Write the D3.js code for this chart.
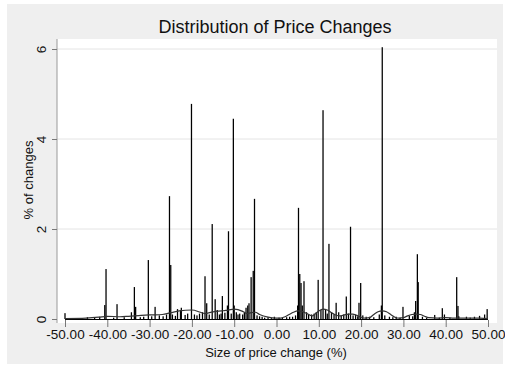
<!DOCTYPE html>
<html>
<head>
<meta charset="utf-8">
<script src="https://d3js.org/d3.v7.min.js"></script>
<style>
  body { margin: 0; background: #fff; }
  text { font-family: "Liberation Sans", Arial, sans-serif; fill: #111; }
</style>
</head>
<body>
<script>
// histogram bins: centre of bin (% price change) and share of changes (%)
var binCenters = [-50, -44.7, -43, -41.8, -40.6, -40.3, -38.5, -37.7, -36, -34.3, -33.6, -33.3, -32.2, -31.4, -30.3, -29.5,
  -28.7, -27.7, -26.8, -26, -25.3, -25, -24.6, -23.9, -23.4, -22.7, -22.5, -21.6, -21, -20.1, -19.4, -18.8, -18.2, -17.5,
  -16.9, -16.5, -15.9, -15.2, -14.5, -14, -13.5, -13.1, -12.8, -12.2, -11.6, -11.35, -10.7, -10.2, -10, -9.5, -9.1,
  -8.7, -8, -7.6, -7.2, -6.8, -6.5, -6, -5.5, -5.2, -4.6, -4, -3.4, -2.8, -2, -1.2, -0.5, 0.6, 1.4, 2.4, 3.1, 3.8, 4.5,
  5, 5.2, 5.5, 5.8, 6.1, 6.5, 7.1, 7.6, 8.3, 8.9, 9.4, 9.85, 10.5, 11, 11.6, 12, 12.4, 13, 13.6, 14.1, 14.7, 15.3, 15.9,
  16.5, 17, 17.5, 18.1, 18.7, 19.2, 19.5, 19.9, 20.4, 21.2, 22, 23, 24.3, 24.8, 25, 25.6, 26.7, 27.5, 28.3, 29.2, 29.9,
  31.4, 32.2, 32.6, 32.9, 33.3, 33.5, 34.5, 35.5, 37.4, 38.5, 39.2, 39.7, 41, 42.6, 42.9, 43.1, 44.9, 45.8, 46.8, 48,
  49.2, 49.8];
var binPct = [0.13, 0.04, 0.04, 0.05, 0.31, 1.11, 0.03, 0.33, 0.04, 0.15, 0.71, 0.27, 0.04, 0.05, 1.31, 0.06,
  0.27, 0.08, 0.06, 0.1, 2.73, 1.2, 0.1, 0.07, 0.22, 0.2, 0.25, 0.09, 0.12, 4.78, 0.1, 0.08, 0.12, 0.15,
  0.95, 0.35, 0.1, 2.11, 0.44, 0.2, 0.1, 0.12, 0.51, 0.14, 0.3, 1.95, 0.12, 4.45, 0.3, 0.15, 0.1,
  0.12, 0.1, 0.14, 0.25, 0.3, 0.35, 0.93, 1.07, 2.67, 0.08, 0.06, 0.05, 0.03, 0.04, 0.02, 0.05, 0.03, 0.03, 0.04, 0.05, 0.05, 0.08,
  0.3, 2.47, 1.0, 0.8, 0.3, 0.84, 0.15, 0.1, 0.1, 0.12, 0.15, 0.87, 0.2, 4.64, 0.2, 0.12, 1.67, 0.15, 0.1, 0.36, 0.15, 0.08, 0.1,
  0.5, 0.12, 2.05, 0.08, 0.1, 0.06, 0.36, 0.8, 0.08, 0.05, 0.05, 0.04, 0.1, 0.3, 6.04, 0.08, 0.05, 0.04, 0.05, 0.03, 0.27,
  0.07, 0.06, 0.15, 0.4, 1.44, 0.82, 0.05, 0.03, 0.09, 0.03, 0.24, 0.1, 0.03, 0.93, 0.29, 0.06, 0.05, 0.03, 0.05, 0.07,
  0.1, 0.22];

// kernel density overlay
var densX = [-50, -45, -42, -40, -37, -35, -32, -30, -27, -25, -23, -20, -18, -17, -15, -13, -12, -10, -8, -7, -6, -5, -4,
  -2, 0, 1, 2, 3, 4, 5, 6, 7, 8, 8.5, 9, 10, 11, 12, 13, 14, 15, 16, 17, 18, 19, 20, 21, 22, 23, 24, 25, 26, 27, 28, 29,
  30, 31, 32, 33, 34, 35, 36, 38, 40, 42, 45, 48, 50];
var densY = [0.01, 0.02, 0.04, 0.06, 0.05, 0.06, 0.08, 0.09, 0.1, 0.14, 0.18, 0.2, 0.15, 0.12, 0.16, 0.18, 0.19, 0.22, 0.17,
  0.12, 0.14, 0.15, 0.1, 0.04, 0.02, 0.02, 0.05, 0.1, 0.15, 0.18, 0.17, 0.13, 0.08, 0.07, 0.1, 0.18, 0.22, 0.2, 0.14, 0.09,
  0.07, 0.09, 0.11, 0.11, 0.08, 0.04, 0.02, 0.03, 0.1, 0.16, 0.18, 0.16, 0.1, 0.04, 0.02, 0.03, 0.07, 0.1, 0.11, 0.1, 0.06,
  0.03, 0.02, 0.03, 0.02, 0.02, 0.02, 0.01];

var xTicks = [-50, -40, -30, -20, -10, 0, 10, 20, 30, 40, 50];
var yTicks = [0, 2, 4, 6];
var binWidth = 0.3;

var W = 505, H = 366;
var svg = d3.select('body').append('svg').attr('width', W).attr('height', H);

// graph region and plot region
svg.append('rect').attr('x', 7).attr('y', 4).attr('width', 496).attr('height', 360).attr('fill', '#efefef');
var plot = { left: 57, right: 497, top: 39, bottom: 323 };
svg.append('rect').attr('x', plot.left).attr('y', plot.top)
  .attr('width', plot.right - plot.left).attr('height', plot.bottom - plot.top).attr('fill', '#fff');

var x = d3.scaleLinear().domain([-50, 50]).range([65, 488]);
var y = d3.scaleLinear().domain([0, 6]).range([319, 49]);

// gridlines
svg.selectAll('.grid').data(yTicks.filter(function(d) { return d > 0; })).enter().append('line')
  .attr('x1', plot.left).attr('x2', plot.right)
  .attr('y1', function(d) { return y(d); }).attr('y2', function(d) { return y(d); })
  .attr('stroke', '#e4e4e4').attr('stroke-width', 1);

// bars
svg.selectAll('.bar').data(binCenters).enter().append('rect')
  .attr('x', function(d) { return x(d - binWidth / 2); })
  .attr('width', function(d) { return x(d + binWidth / 2) - x(d - binWidth / 2); })
  .attr('y', function(d, i) { return y(binPct[i]); })
  .attr('height', function(d, i) { return y(0) - y(binPct[i]); })
  .attr('fill', '#000');

// baseline of the histogram
svg.append('line').attr('x1', x(-50)).attr('x2', x(50)).attr('y1', y(0) + 0.5).attr('y2', y(0) + 0.5)
  .attr('stroke', '#000').attr('stroke-width', 1);

// density line
var line = d3.line()
  .x(function(d) { return x(d); })
  .y(function(d, i) { return y(densY[i]); })
  .curve(d3.curveMonotoneX);
svg.append('path').datum(densX).attr('d', line)
  .attr('fill', 'none').attr('stroke', '#333').attr('stroke-width', 1.2);

// y axis
var yAxis = svg.append('g').attr('transform', 'translate(' + plot.left + ',0)')
  .call(d3.axisLeft(y).tickValues(yTicks).tickSize(5).tickPadding(8).tickFormat(d3.format('d')));
yAxis.select('.domain').attr('d', 'M0,' + plot.top + 'V' + plot.bottom).attr('stroke', '#999');
yAxis.selectAll('.tick line').attr('stroke', '#777');
yAxis.selectAll('.tick text')
  .attr('transform', 'rotate(-90)').attr('x', 0).attr('y', -11).attr('dy', 0)
  .style('text-anchor', 'middle').style('font-size', '13.5px');

// x axis, labels with a plain hyphen like the original
var fmt = d3.format('.2f');
var xAxis = svg.append('g').attr('transform', 'translate(0,' + plot.bottom + ')')
  .call(d3.axisBottom(x).tickValues(xTicks).tickSize(4).tickPadding(2)
    .tickFormat(function(d) { return fmt(d).replace('\u2212', '-'); }));
xAxis.select('.domain').remove();
xAxis.selectAll('.tick line').attr('stroke', '#777').attr('y1', -3);
xAxis.selectAll('.tick text').style('font-size', '13.5px');

// titles
svg.append('text').attr('x', 275).attr('y', 33).attr('text-anchor', 'middle')
  .style('font-size', '18px').text('Distribution of Price Changes');
svg.append('text').attr('x', 276).attr('y', 357).attr('text-anchor', 'middle')
  .style('font-size', '13px').text('Size of price change (%)');
svg.append('text').attr('transform', 'translate(33,180) rotate(-90)').attr('text-anchor', 'middle')
  .style('font-size', '13px').text('% of changes');
</script>
</body>
</html>
